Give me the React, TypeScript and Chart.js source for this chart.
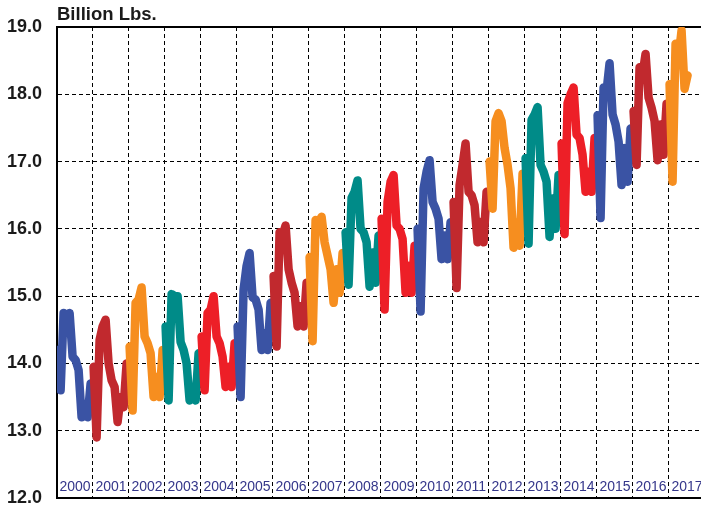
import React, { useEffect, useRef } from "react";
import { Chart, registerables } from "chart.js";

Chart.register(...registerables);

// Monthly values (Billion Lbs.), Jan..Dec
const years = [2000, 2001, 2002, 2003, 2004, 2005, 2006, 2007, 2008, 2009, 2010, 2011, 2012, 2013, 2014, 2015, 2016, 2017];
const v2000 = [14.2, 13.6, 14.75, 14.6, 14.75, 14.1, 14.05, 13.9, 13.2, 13.4, 13.2, 13.7];
const v2001 = [13.95, 12.9, 14.35, 14.55, 14.65, 14.0, 13.75, 13.65, 13.13, 13.5, 13.35, 14.0];
const v2002 = [14.25, 13.3, 14.9, 14.95, 15.13, 14.4, 14.3, 14.15, 13.5, 13.8, 13.5, 14.2];
const v2003 = [14.55, 13.45, 15.03, 15.0, 15.0, 14.32, 14.2, 14.0, 13.45, 13.55, 13.45, 14.15];
const v2004 = [14.4, 13.6, 14.75, 14.8, 15.0, 14.4, 14.3, 14.1, 13.65, 13.95, 13.65, 14.3];
const v2005 = [14.55, 13.5, 15.1, 15.45, 15.64, 14.98, 14.95, 14.8, 14.2, 14.45, 14.2, 14.9];
const v2006 = [15.3, 14.25, 15.95, 15.9, 16.05, 15.4, 15.2, 15.05, 14.55, 14.85, 14.55, 15.2];
const v2007 = [15.58, 14.33, 16.13, 16.1, 16.18, 15.8, 15.6, 15.4, 14.9, 15.4, 15.05, 15.64];
const v2008 = [15.95, 15.17, 16.46, 16.55, 16.72, 16.0, 15.95, 15.8, 15.14, 15.65, 15.2, 15.9];
const v2009 = [16.15, 14.8, 16.4, 16.7, 16.8, 16.05, 16.0, 15.85, 15.05, 15.45, 15.05, 15.75];
const v2010 = [16.0, 14.77, 16.6, 16.85, 17.02, 16.4, 16.3, 16.15, 15.55, 15.9, 15.55, 16.1];
const v2011 = [16.4, 15.12, 16.65, 16.95, 17.27, 16.55, 16.5, 16.35, 15.8, 16.1, 15.8, 16.55];
const v2012 = [17.0, 16.3, 17.6, 17.72, 17.6, 17.2, 16.95, 16.6, 15.72, 16.1, 15.75, 16.82];
const v2013 = [17.05, 15.78, 17.62, 17.7, 17.81, 16.95, 16.85, 16.7, 15.88, 16.45, 16.0, 16.8];
const v2014 = [17.27, 15.92, 17.87, 18.0, 18.1, 17.4, 17.35, 17.1, 16.55, 16.85, 16.55, 17.35];
const v2015 = [17.69, 16.16, 18.1, 18.05, 18.46, 17.7, 17.55, 17.3, 16.65, 17.2, 16.7, 17.49];
const v2016 = [17.75, 16.95, 18.4, 18.3, 18.6, 17.95, 17.8, 17.6, 17.02, 17.55, 17.1, 17.86];
const v2017 = [18.15, 16.7, 18.75, 18.55, 18.95, 18.08, 18.28];
const yearValues = [v2000, v2001, v2002, v2003, v2004, v2005, v2006, v2007, v2008, v2009, v2010, v2011, v2012, v2013, v2014, v2015, v2016, v2017];
const yearLabels = years.map((y) => String(y));
const yTicks = [12, 13, 14, 15, 16, 17, 18, 19];

const palette = ["#3a53a4", "#c1292e", "#f68e1f", "#008b88", "#ed1f27"];
const FONT = "Arial, 'Liberation Sans', Helvetica, sans-serif";

const titlePlugin = {
  id: "unitTitle",
  afterDraw(chart: any) {
    const { ctx, chartArea } = chart;
    ctx.save();
    ctx.font = `bold 18.5px ${FONT}`;
    ctx.fillStyle = "#1a1a1a";
    ctx.textAlign = "left";
    ctx.textBaseline = "alphabetic";
    ctx.fillText("Billion Lbs.", chartArea.left, 20);
    ctx.restore();
  },
};

export default function App() {
  const ref = useRef<HTMLCanvasElement | null>(null);
  useEffect(() => {
    if (!ref.current) return;
    const datasets = years.map((yr, i) => ({
      label: yearLabels[i],
      data: yearValues[i].map((v, m) => ({ x: yr + (m + 0.2) / 12, y: v })),
      borderColor: palette[i % palette.length],
      backgroundColor: palette[i % palette.length],
      borderWidth: 8.5,
      pointRadius: 0,
      tension: 0,
      borderCapStyle: "round" as const,
      borderJoinStyle: "round" as const,
      order: years.length - i,
    }));
    const chart = new Chart(ref.current, {
      type: "line",
      data: { datasets },
      plugins: [titlePlugin],
      options: {
        animation: false,
        responsive: false,
        events: [],
        layout: { padding: { top: 27, left: 0, right: 0, bottom: 0 } },
        plugins: { legend: { display: false }, tooltip: { enabled: false }, title: { display: false } },
        scales: {
          x: {
            type: "linear",
            min: 2000,
            max: 2017.89,
            afterBuildTicks: (scale: any) => {
              scale.ticks = years.map((y) => ({ value: y + 0.5 }));
            },
            afterFit: (scale: any) => {
              scale.height = 8;
              scale.paddingLeft = 0;
              scale.paddingRight = 0;
            },
            grid: { display: true, offset: true, drawTicks: false, color: "#000", lineWidth: 1 },
            border: { display: true, color: "#000", width: 2, dash: [4, 3] },
            ticks: {
              autoSkip: false,
              maxRotation: 0,
              minRotation: 0,
              mirror: true,
              padding: 2,
              color: "#34368a",
              font: { family: FONT, size: 14 },
              callback: (_v: any, i: number) => yearLabels[i],
            },
          },
          y: {
            type: "linear",
            min: 12,
            max: 19,
            afterBuildTicks: (scale: any) => {
              scale.ticks = yTicks.map((v) => ({ value: v }));
            },
            afterFit: (scale: any) => {
              scale.width = 57;
              scale.paddingTop = 0;
              scale.paddingBottom = 0;
            },
            grid: {
              display: true,
              drawTicks: false,
              color: "#000",
              lineWidth: (c: any) => (c.tick && c.tick.value === 19 ? 2 : 1),
            },
            border: {
              display: true,
              color: "#000",
              width: 2,
              dash: (c: any) => (c.tick && c.tick.value === 19 ? [] : [4, 3]),
            },
            ticks: {
              padding: 15,
              color: "#1a1a1a",
              font: { family: FONT, size: 18, weight: "bold" },
              callback: (v: any) => Number(v).toFixed(1),
            },
          },
        },
      },
    } as any);
    return () => chart.destroy();
  }, []);
  return (
    <div style={{ position: "fixed", left: 0, top: 0, width: 701, height: 506, overflow: "hidden", background: "#fff" }}>
      <canvas ref={ref} width={701} height={506} style={{ display: "block", width: 701, height: 506 }} />
    </div>
  );
}
